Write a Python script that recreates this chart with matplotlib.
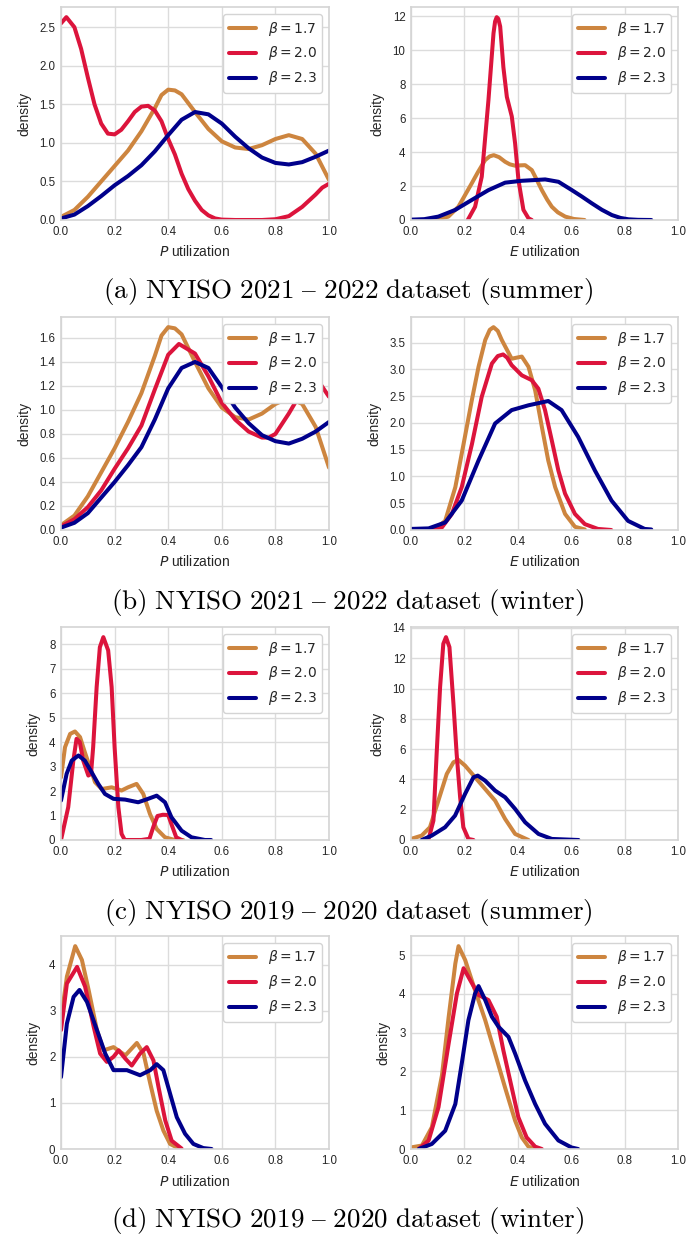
import matplotlib
matplotlib.use("Agg")
import matplotlib.pyplot as plt

# ---------------- data ----------------
betas = ["1.7", "2.0", "2.3"]
colors = ["#CD853F", "#DC143C", "#00008B"]

captions = [
    r"$\mathrm{(a)\ NYISO\ 2021\ –\ 2022\ dataset\ (summer)}$",
    r"$\mathrm{(b)\ NYISO\ 2021\ –\ 2022\ dataset\ (winter)}$",
    r"$\mathrm{(c)\ NYISO\ 2019\ –\ 2020\ dataset\ (summer)}$",
    r"$\mathrm{(d)\ NYISO\ 2019\ –\ 2020\ dataset\ (winter)}$",
]
xlabels = [r"$P$ utilization", r"$E$ utilization"]

# (a) left: P utilization, 2021-2022 summer
aP_x17 = [0, 0.05, 0.1, 0.15, 0.2, 0.25, 0.3, 0.35, 0.375, 0.4, 0.425, 0.45, 0.5, 0.55, 0.6, 0.65, 0.7, 0.75, 0.8, 0.85,
          0.9, 0.95, 1.0]
aP_y17 = [0.04, 0.13, 0.3, 0.5, 0.7, 0.9, 1.15, 1.45, 1.62, 1.69, 1.68, 1.63, 1.40, 1.18, 1.02, 0.94, 0.92, 0.97,
          1.05, 1.10, 1.05, 0.86, 0.52]
aP_x20 = [0, 0.02, 0.05, 0.075, 0.1, 0.125, 0.15, 0.175, 0.2, 0.225, 0.25, 0.275, 0.3, 0.325, 0.35, 0.375, 0.4, 0.425, 0.45,
          0.475, 0.5, 0.525, 0.55, 0.575, 0.6, 0.65, 0.7, 0.75, 0.8, 0.85, 0.9, 0.95, 0.975, 1.0]
aP_y20 = [2.55, 2.63, 2.5, 2.22, 1.85, 1.5, 1.25, 1.12, 1.11, 1.17, 1.28, 1.4, 1.47, 1.48, 1.42, 1.28, 1.05, 0.85, 0.6,
          0.4, 0.25, 0.13, 0.06, 0.02, 0.005, 0, 0, 0, 0.01, 0.05, 0.17, 0.33, 0.42, 0.47]
aP_x23 = [0, 0.05, 0.1, 0.15, 0.2, 0.25, 0.3, 0.35, 0.4, 0.45, 0.5, 0.55, 0.6, 0.65, 0.7, 0.75, 0.8, 0.85, 0.9, 0.95, 1.0]
aP_y23 = [0.02, 0.07, 0.18, 0.31, 0.45, 0.57, 0.71, 0.89, 1.1, 1.3, 1.4, 1.37, 1.25, 1.08, 0.93, 0.81, 0.74, 0.72, 0.75, 0.82, 0.9]

# (a) right: E utilization, 2021-2022 summer
aE_x17 = [0.06, 0.1, 0.14, 0.1775, 0.2, 0.2275, 0.25, 0.2775, 0.295, 0.31, 0.33, 0.3525, 0.37, 0.39, 0.41, 0.4275,
          0.4525, 0.47, 0.49, 0.51, 0.5275, 0.55, 0.5775, 0.61, 0.65]
aE_y17 = [0.0, 0.05, 0.2, 0.78, 1.4, 2.16, 2.8, 3.53, 3.75, 3.82, 3.7, 3.43, 3.28, 3.2, 3.22, 3.23,
          2.94, 2.4, 1.76, 1.2, 0.78, 0.45, 0.2, 0.06, 0.0]
aE_x20 = [0.2125, 0.24, 0.265, 0.29, 0.309, 0.315, 0.321, 0.327, 0.334, 0.346, 0.359, 0.3775, 0.39, 0.4025, 0.421, 0.44, 0.4525]
aE_y20 = [0.0, 0.78, 2.55, 7.05, 11.0, 11.7, 11.95, 11.85, 11.4, 9.0, 7.25, 6.1, 4.5, 2.35, 0.6, 0.1, 0.0]
aE_x23 = [0.0, 0.05, 0.1025, 0.165, 0.2275, 0.29, 0.3525, 0.415, 0.46, 0.5025, 0.5525, 0.6025, 0.64, 0.6775, 0.715,
          0.7525, 0.785, 0.815, 0.85, 0.9]
aE_y23 = [0.02, 0.05, 0.2, 0.59, 1.18, 1.76, 2.2, 2.31, 2.35, 2.39, 2.25, 1.76, 1.38, 0.98, 0.6,
          0.29, 0.12, 0.04, 0.01, 0.0]

# (b) left: P utilization, 2021-2022 winter
bP_x17 = [0, 0.05, 0.1, 0.15, 0.2, 0.25, 0.3, 0.35, 0.375, 0.4, 0.425, 0.45, 0.5, 0.55, 0.6, 0.65, 0.7, 0.75, 0.8, 0.85,
          0.9, 0.95, 1.0]
bP_y17 = [0.04, 0.12, 0.28, 0.48, 0.68, 0.9, 1.14, 1.45, 1.62, 1.69, 1.68, 1.63, 1.40, 1.18, 1.02, 0.94, 0.92, 0.97,
          1.05, 1.10, 1.05, 0.86, 0.52]
bP_x20 = [0, 0.05, 0.1, 0.15, 0.2, 0.25, 0.3, 0.35, 0.4, 0.44, 0.5, 0.55, 0.6, 0.65, 0.7, 0.75, 0.775, 0.8, 0.85, 0.9,
          0.94, 0.97, 1.0]
bP_y20 = [0.03, 0.09, 0.19, 0.33, 0.51, 0.68, 0.87, 1.17, 1.46, 1.55, 1.47, 1.28, 1.06, 0.92, 0.82, 0.77, 0.77, 0.80,
          0.97, 1.16, 1.24, 1.21, 1.11]
bP_x23 = [0, 0.05, 0.1, 0.15, 0.2, 0.25, 0.3, 0.35, 0.4, 0.45, 0.5, 0.55, 0.6, 0.65, 0.7, 0.75, 0.8, 0.85, 0.9, 0.95, 1.0]
bP_y23 = [0.02, 0.06, 0.14, 0.27, 0.40, 0.54, 0.69, 0.92, 1.18, 1.35, 1.40, 1.35, 1.19, 1.02, 0.89, 0.79, 0.74, 0.72, 0.76, 0.82, 0.9]

# (b) right: E utilization, 2021-2022 winter
bE_x17 = [0.054, 0.09, 0.128, 0.166, 0.197, 0.228, 0.253, 0.278, 0.295, 0.309, 0.325, 0.34, 0.377, 0.415, 0.44, 0.465,
          0.49, 0.514, 0.54, 0.577, 0.614, 0.651]
bE_y17 = [0, 0.02, 0.17, 0.8, 1.61, 2.43, 3.05, 3.55, 3.74, 3.79, 3.72, 3.55, 3.2, 3.24, 3.05, 2.61,
          1.93, 1.3, 0.8, 0.3, 0.06, 0.01]
bE_x20 = [0.054, 0.116, 0.153, 0.19, 0.228, 0.265, 0.303, 0.325, 0.345, 0.36, 0.377, 0.415, 0.452, 0.477, 0.502, 0.527,
          0.552, 0.577, 0.614, 0.651, 0.70, 0.75]
bE_y20 = [0, 0.05, 0.3, 0.8, 1.6, 2.49, 3.11, 3.25, 3.28, 3.22, 3.08, 2.89, 2.8, 2.64, 2.24, 1.68,
          1.11, 0.68, 0.3, 0.11, 0.02, 0.0]
bE_x23 = [0.0, 0.066, 0.128, 0.19, 0.253, 0.315, 0.377, 0.44, 0.514, 0.564, 0.626, 0.689, 0.751, 0.813, 0.875, 0.9]
bE_y23 = [0.02, 0.03, 0.14, 0.55, 1.3, 1.99, 2.24, 2.33, 2.41, 2.24, 1.74, 1.11, 0.55, 0.17, 0.02, 0.01]

# (c) left: P utilization, 2019-2020 summer
cP_x17 = [0.0, 0.015, 0.034, 0.052, 0.071, 0.089, 0.108, 0.127, 0.152, 0.189, 0.226, 0.25, 0.282, 0.307, 0.332, 0.357,
          0.388, 0.425, 0.456]
cP_y17 = [2.56, 3.79, 4.33, 4.43, 4.2, 3.58, 2.97, 2.36, 2.08, 2.15, 2.02, 2.15, 2.29, 1.88, 1.06, 0.45,
          0.11, 0.0, 0.0]
cP_x20 = [0.0, 0.027, 0.046, 0.058, 0.07, 0.083, 0.102, 0.112, 0.12, 0.133, 0.145, 0.158, 0.176, 0.189, 0.2, 0.214,
          0.226, 0.238, 0.3, 0.33, 0.345, 0.36, 0.38, 0.4, 0.412, 0.43, 0.45]
cP_y20 = [0.0, 1.34, 3.24, 4.13, 4.0, 3.24, 2.63, 2.7, 3.79, 6.24, 7.87, 8.28, 7.74, 6.24, 3.79, 1.34,
          0.25, 0.0, 0.0, 0.05, 0.55, 0.98, 1.03, 1.02, 0.65, 0.11, 0.0]
cP_x23 = [0.0, 0.021, 0.04, 0.065, 0.089, 0.114, 0.139, 0.164, 0.196, 0.239, 0.288, 0.325, 0.357, 0.388, 0.412, 0.45,
          0.487, 0.537, 0.56]
cP_y23 = [1.61, 2.7, 3.24, 3.45, 3.24, 2.77, 2.29, 1.88, 1.68, 1.65, 1.54, 1.68, 1.81, 1.54, 0.93, 0.38,
          0.11, 0.0, 0.0]

# (c) right: E utilization, 2019-2020 summer
cE_x17 = [0.0, 0.04, 0.071, 0.1025, 0.134, 0.159, 0.1775, 0.2025, 0.24, 0.2775, 0.315, 0.3525, 0.39, 0.44]
cE_y17 = [0.07, 0.29, 0.84, 2.6, 4.36, 5.13, 5.29, 4.91, 4.14, 3.37, 2.6, 1.39, 0.4, 0.0]
cE_x20 = [0.065, 0.084, 0.096, 0.109, 0.121, 0.131, 0.144, 0.159, 0.171, 0.184, 0.196, 0.215, 0.234]
cE_y20 = [0, 1.28, 5.68, 10.1, 12.95, 13.39, 12.73, 8.99, 5.68, 2.82, 0.84, 0.07, 0]
cE_x23 = [0.04, 0.0775, 0.1275, 0.165, 0.2025, 0.234, 0.25, 0.2775, 0.315, 0.3525, 0.39, 0.4275, 0.4775, 0.5275, 0.6275]
cE_y23 = [0, 0.29, 0.84, 1.61, 3.04, 4.14, 4.25, 3.92, 3.26, 2.82, 2.05, 1.17, 0.40, 0.07, 0]

# (d) left: P utilization, 2019-2020 winter
dP_x17 = [0.0, 0.022, 0.053, 0.078, 0.103, 0.134, 0.159, 0.196, 0.24, 0.283, 0.308, 0.333, 0.357, 0.382, 0.407, 0.444]
dP_y17 = [2.8, 3.74, 4.4, 4.1, 3.45, 2.58, 2.14, 2.21, 2.03, 2.3, 2.07, 1.42, 0.83, 0.4, 0.11, 0.0]
dP_x20 = [0.0, 0.022, 0.06, 0.09, 0.122, 0.146, 0.171, 0.196, 0.215, 0.24, 0.264, 0.295, 0.32, 0.345, 0.364, 0.389,
          0.413, 0.45]
dP_y20 = [2.58, 3.59, 3.95, 3.52, 2.65, 2.07, 1.89, 2.0, 2.14, 1.96, 1.81, 2.07, 2.21, 1.92, 1.34, 0.62,
          0.18, 0.01]
dP_x23 = [0.0, 0.022, 0.047, 0.069, 0.097, 0.134, 0.165, 0.196, 0.246, 0.295, 0.333, 0.357, 0.382, 0.407, 0.432, 0.463,
          0.494, 0.531, 0.562]
dP_y23 = [1.56, 2.72, 3.3, 3.45, 3.19, 2.58, 2.07, 1.71, 1.71, 1.6, 1.71, 1.84, 1.71, 1.2, 0.69, 0.33,
          0.11, 0.02, 0.0]

# (d) right: E utilization, 2019-2020 winter
dE_x17 = [0.0, 0.041, 0.078, 0.116, 0.141, 0.166, 0.178, 0.203, 0.24, 0.278, 0.315, 0.352, 0.39, 0.415, 0.44, 0.465]
dE_y17 = [0.04, 0.09, 0.56, 1.9, 3.4, 4.78, 5.23, 4.87, 4.09, 3.32, 2.46, 1.59, 0.73, 0.3, 0.06, 0.0]
dE_x20 = [0.029, 0.066, 0.103, 0.141, 0.172, 0.197, 0.222, 0.253, 0.29, 0.321, 0.346, 0.377, 0.402, 0.433, 0.465, 0.49]
dE_y20 = [0, 0.22, 1.08, 2.72, 4.01, 4.66, 4.35, 3.97, 3.84, 3.41, 2.54, 1.59, 0.82, 0.3, 0.06, 0]
dE_x23 = [0.029, 0.078, 0.128, 0.166, 0.19, 0.215, 0.24, 0.253, 0.278, 0.303, 0.328, 0.365, 0.39, 0.427, 0.465, 0.502,
          0.552, 0.601, 0.626]
dE_y23 = [0, 0.13, 0.47, 1.16, 2.2, 3.32, 4.01, 4.2, 3.84, 3.41, 3.15, 2.89, 2.46, 1.77, 1.16, 0.65,
          0.22, 0.04, 0]

panels = [
    [[(aP_x17, aP_y17), (aP_x20, aP_y20), (aP_x23, aP_y23)],
     [(aE_x17, aE_y17), (aE_x20, aE_y20), (aE_x23, aE_y23)]],
    [[(bP_x17, bP_y17), (bP_x20, bP_y20), (bP_x23, bP_y23)],
     [(bE_x17, bE_y17), (bE_x20, bE_y20), (bE_x23, bE_y23)]],
    [[(cP_x17, cP_y17), (cP_x20, cP_y20), (cP_x23, cP_y23)],
     [(cE_x17, cE_y17), (cE_x20, cE_y20), (cE_x23, cE_y23)]],
    [[(dP_x17, dP_y17), (dP_x20, dP_y20), (dP_x23, dP_y23)],
     [(dE_x17, dE_y17), (dE_x20, dE_y20), (dE_x23, dE_y23)]],
]

# ---------------- style ----------------
plt.rcParams["font.family"] = ["Liberation Sans", "DejaVu Sans"]
plt.rcParams["text.color"] = "#262626"
plt.rcParams["axes.labelcolor"] = "#262626"
plt.rcParams["xtick.color"] = "#262626"
plt.rcParams["ytick.color"] = "#262626"

W, H = 686, 1237
fig = plt.figure(figsize=(W / 100, H / 100), dpi=100)

col_left = [61, 411]
col_width = [268, 267]
row_top = [7, 317, 627, 936]
ax_h = 213
cap_y = [292, 603, 912, 1221]

for r in range(4):
    for c in range(2):
        ax = fig.add_axes([col_left[c] / W, 1 - (row_top[r] + ax_h) / H, col_width[c] / W, ax_h / H])
        ax.set_facecolor("white")
        for s in ax.spines.values():
            s.set_color("#d4d4d4")
            s.set_linewidth(1.2)
        ax.grid(True, color="#dcdcdc", linewidth=1.0)
        ax.set_axisbelow(True)
        ax.tick_params(length=0, labelsize=8.3, pad=4)
        ymax = 0
        for (xs, ys), b, col in zip(panels[r][c], betas, colors):
            ax.plot(xs, ys, color=col, lw=2.9, label=r"$\beta = %s$" % b,
                    solid_capstyle="round", solid_joinstyle="round")
            ymax = max(ymax, max(ys))
        ax.set_xlim(0, 1)
        ax.set_ylim(0, ymax * 1.05)
        ax.set_xticks([0, 0.2, 0.4, 0.6, 0.8, 1.0])
        ax.set_xticklabels(["0.0", "0.2", "0.4", "0.6", "0.8", "1.0"])
        ax.set_xlabel(xlabels[c], fontsize=10, labelpad=5)
        ax.set_ylabel("density", fontsize=10, labelpad=6)
        leg = ax.legend(loc="upper right", fontsize=10, frameon=True, fancybox=True,
                        edgecolor="#d4d4d4", framealpha=1.0)
        leg.get_frame().set_linewidth(1.0)
    fig.text(348 / W, 1 - cap_y[r] / H, captions[r], ha="center", va="center",
             fontsize=19.5, math_fontfamily="cm", color="black")

fig.savefig("out.png", dpi=100)
